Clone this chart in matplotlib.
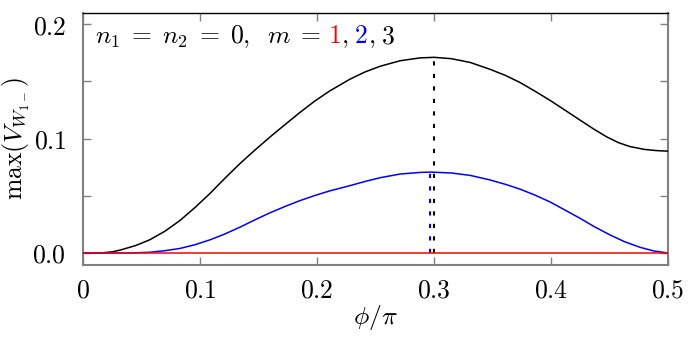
import matplotlib
matplotlib.use("Agg")
import matplotlib.pyplot as plt

plt.rcParams['mathtext.fontset'] = 'cm'
plt.rcParams['font.family'] = ['DejaVu Serif']

# m = 3 (black)
x_m3 = [0.0, 0.015, 0.025, 0.032, 0.045, 0.057, 0.07, 0.083, 0.096, 0.1085, 0.121, 0.134,
        0.147, 0.160, 0.173, 0.185, 0.198, 0.211, 0.228, 0.241, 0.254, 0.271, 0.288,
        0.300, 0.315, 0.331, 0.348, 0.361, 0.3735, 0.386, 0.399, 0.412, 0.425, 0.437,
        0.4476, 0.4575, 0.4675, 0.48, 0.49, 0.5]
y_m3 = [0.0, 0.0, 0.001, 0.0026, 0.0065, 0.0115, 0.019, 0.0285, 0.040, 0.052, 0.065, 0.078,
        0.090, 0.1015, 0.1125, 0.1225, 0.1327, 0.1417, 0.1518, 0.1582, 0.1632, 0.168,
        0.1705, 0.171, 0.1698, 0.1665, 0.1605, 0.1552, 0.149, 0.1416, 0.1335, 0.1248,
        0.116, 0.108, 0.1015, 0.0965, 0.093, 0.0905, 0.0895, 0.089]

# m = 2 (blue)
x_m2 = [0.0, 0.04, 0.057, 0.07, 0.083, 0.096, 0.1085, 0.121, 0.134, 0.147, 0.160, 0.173,
        0.185, 0.198, 0.211, 0.228, 0.241, 0.254, 0.271, 0.288, 0.297, 0.315, 0.331,
        0.348, 0.361, 0.3735, 0.386, 0.399, 0.412, 0.425, 0.437, 0.450, 0.463, 0.476,
        0.488, 0.5]
y_m2 = [0.0, 0.0, 0.0006, 0.002, 0.004, 0.0073, 0.0115, 0.0165, 0.0225, 0.029, 0.0352,
        0.0408, 0.0456, 0.0502, 0.0543, 0.0588, 0.0625, 0.0658, 0.069, 0.0704, 0.0707,
        0.0699, 0.0678, 0.0638, 0.060, 0.0558, 0.0507, 0.0447, 0.0375, 0.0302, 0.023,
        0.016, 0.0098, 0.005, 0.0017, 0.0]

# m = 1 (red)
x_m1 = [0.0, 0.5]
y_m1 = [0.0, 0.0]

# peak positions (dotted markers)
peak_x_m3 = 0.300
peak_y_m3 = 0.171
peak_x_m2 = 0.297
peak_y_m2 = 0.0707

xticks = [0, 0.1, 0.2, 0.3, 0.4, 0.5]
xticklabels = ['$0$', '$0.1$', '$0.2$', '$0.3$', '$0.4$', '$0.5$']
yticks = [0.0, 0.1, 0.2]
yticklabels = ['$0.0$', '$0.1$', '$0.2$']
yminor = [0.05, 0.15]

FS = 18.5

fig = plt.figure(figsize=(7, 3.4), dpi=100)
ax = fig.add_axes([83/700, 75/340, 585/700, 252.3/340])

gray = '#808080'
ax.plot([peak_x_m3, peak_x_m3], [0, peak_y_m3], color='black', lw=1.5,
        linestyle=(0, (2, 4)), zorder=2)
ax.plot([peak_x_m2, peak_x_m2], [0, peak_y_m2], color='blue', lw=1.5,
        linestyle=(0, (2, 4)), zorder=2)
ax.plot(x_m3, y_m3, color='black', lw=1.1, zorder=3)
ax.plot(x_m2, y_m2, color='blue', lw=1.1, zorder=3)
ax.plot(x_m1, y_m1, color='red', lw=1.1, zorder=4)

ax.set_xlim(0, 0.5)
ax.set_ylim(-0.0105, 0.21)
ax.set_xticks(xticks)
ax.set_xticklabels(xticklabels, fontsize=FS)
ax.set_yticks(yticks)
ax.set_yticklabels(yticklabels, fontsize=FS)
ax.set_yticks(yminor, minor=True)
ax.tick_params(which='both', direction='in', top=True, right=True, length=6,
               width=1.0, color=gray)
ax.tick_params(axis='x', pad=9)
ax.tick_params(axis='y', pad=12)

for s in ['left', 'right', 'bottom']:
    ax.spines[s].set_color(gray)
    ax.spines[s].set_linewidth(1.5)
ax.spines['top'].set_color('black')
ax.spines['top'].set_linewidth(1.0)

ax.set_xlabel(r'$\phi/\pi$', fontsize=FS, labelpad=0)
ax.set_ylabel(r'$\max(V_{W_{1-}})$', fontsize=FS)
ax.yaxis.set_label_coords(-51 / 585, 0.5)

# multi-coloured annotation: (text, colour, gap after in px)
pieces = [(r'$n_1\;=\;n_2\;=\;0,\;\;m\;=$', 'black', 7), (r'$1$', 'red', 0),
          (r'$,$', 'black', 6), (r'$2$', 'blue', 0), (r'$,$', 'black', 6),
          (r'$3$', 'black', 0)]
fig.canvas.draw()
renderer = fig.canvas.get_renderer()
xpos = 12 / 585
ypos = (265 - 43) / 252.3
for s, c, gap in pieces:
    t = ax.text(xpos, ypos, s, color=c, fontsize=FS, transform=ax.transAxes,
                va='baseline', ha='left')
    bb = t.get_window_extent(renderer)
    xpos += (bb.width + gap) / ax.bbox.width

fig.savefig('out.png', dpi=100)
